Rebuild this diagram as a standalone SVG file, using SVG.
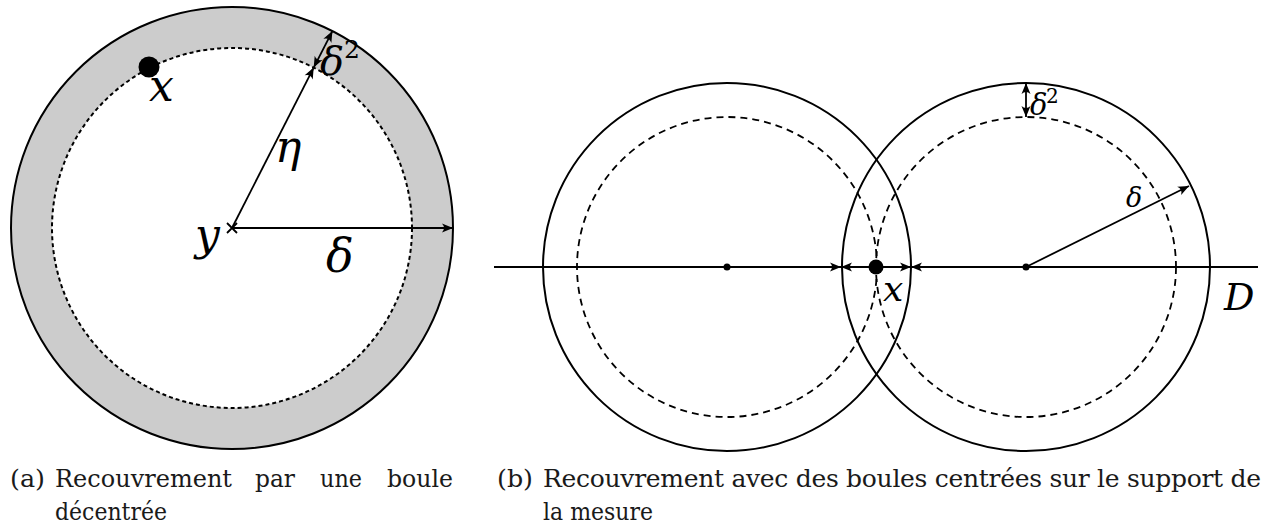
<svg xmlns="http://www.w3.org/2000/svg" width="1265" height="528" viewBox="0 0 1265 528">
<style>
.ln{stroke:#000;stroke-width:1.8;fill:none}
.circ{stroke:#000;stroke-width:2;fill:none}
.dot{stroke:#000;stroke-width:2;fill:none;stroke-dasharray:4 3}
.dash{stroke:#000;stroke-width:1.8;fill:none;stroke-dasharray:7 5}
text{font-family:"DejaVu Serif",serif}
.m{font-style:italic;fill:#000}
.n{font-style:normal;fill:#000}
.cap{font-size:25px;fill:#1a1a1a}
</style>
<defs>
<marker id="ah" viewBox="-12 -6 13 12" refX="0" refY="0" markerWidth="13" markerHeight="12" markerUnits="userSpaceOnUse" orient="auto-start-reverse">
<path d="M0,0 L-11,-4.5 Q-7,0 -11,4.5 Z" fill="#000"/>
</marker>
</defs>
<rect width="1265" height="528" fill="#fff"/>

<g id="ballA">
<path d="M232,7 A221,221 0 1,1 232,449 A221,221 0 1,1 232,7 Z M232,48 A180,180 0 1,0 232,408 A180,180 0 1,0 232,48 Z" fill="#cccccc" fill-rule="evenodd"/>
<circle cx="232" cy="228" r="221" class="circ"/>
<circle cx="232" cy="228" r="180" class="dot"/>
</g>
<g id="pointX">
<circle cx="149" cy="67" r="10.5" fill="#000"/>
<text x="149" y="101" class="m" font-size="44">x</text>
</g>
<g id="centerY">
<path d="M227,223 L237,233 M237,223 L227,233" class="ln"/>
<text x="195" y="250" class="m" font-size="44">y</text>
</g>

<g id="ballB1">
<circle cx="727" cy="267" r="184" class="circ"/>
<circle cx="727" cy="267" r="150" class="dash"/>
<circle cx="727" cy="267" r="3.5" fill="#000"/>
</g>
<g id="ballB2">
<circle cx="1026" cy="267" r="184" class="circ"/>
<circle cx="1026" cy="267" r="150" class="dash"/>
<circle cx="1026" cy="267" r="3.5" fill="#000"/>
</g>
<g id="lineD">
<line x1="494" y1="267" x2="1258" y2="267" class="ln"/>
<text x="1224" y="310" class="m" font-size="38">D</text>
</g>
<g id="pointXb">
<circle cx="876" cy="267" r="7.5" fill="#000"/>
<text x="883" y="301" class="m" font-size="36">x</text>
</g>

<g id="connectors">
<line x1="232" y1="228" x2="313.7" y2="67.6" class="ln" marker-end="url(#ah)"/>
<line x1="313.7" y1="67.6" x2="332.4" y2="31.1" class="ln" marker-start="url(#ah)" marker-end="url(#ah)"/>
<line x1="232" y1="228" x2="453" y2="228" class="ln" marker-end="url(#ah)"/>
<line x1="727" y1="267" x2="841" y2="267" class="ln" marker-end="url(#ah)"/>
<line x1="876" y1="267" x2="841" y2="267" class="ln" marker-end="url(#ah)"/>
<line x1="876" y1="267" x2="911" y2="267" class="ln" marker-end="url(#ah)"/>
<line x1="1026" y1="267" x2="911" y2="267" class="ln" marker-end="url(#ah)"/>
<line x1="1026" y1="83" x2="1026" y2="117" class="ln" marker-start="url(#ah)" marker-end="url(#ah)"/>
<line x1="1026" y1="267" x2="1189" y2="186" class="ln" marker-end="url(#ah)"/>
</g>

<g id="labels">
<text x="275" y="162" class="m" font-size="44">η</text>
<text x="320" y="75" class="m" font-size="40">δ</text>
<text x="344" y="58" class="n" font-size="25">2</text>
<text x="326" y="272" class="m" font-size="46">δ</text>
<text x="1030" y="115" class="m" font-size="29">δ</text>
<text x="1046" y="103" class="n" font-size="20">2</text>
<text x="1126" y="207" class="m" font-size="27">δ</text>
</g>

<g id="captionA">
<text x="10" y="487" class="cap" textLength="35" lengthAdjust="spacingAndGlyphs">(a)</text>
<text x="55" y="487" class="cap" textLength="177" lengthAdjust="spacingAndGlyphs">Recouvrement</text>
<text x="255" y="487" class="cap" textLength="40" lengthAdjust="spacingAndGlyphs">par</text>
<text x="320" y="487" class="cap" textLength="42" lengthAdjust="spacingAndGlyphs">une</text>
<text x="387" y="487" class="cap" textLength="66" lengthAdjust="spacingAndGlyphs">boule</text>
<text x="55" y="520" class="cap" textLength="112" lengthAdjust="spacingAndGlyphs">décentrée</text>
</g>
<g id="captionB">
<text x="497" y="487" class="cap" textLength="36" lengthAdjust="spacingAndGlyphs">(b)</text>
<text x="543" y="487" class="cap" textLength="718" lengthAdjust="spacing">Recouvrement avec des boules centrées sur le support de</text>
<text x="543" y="520" class="cap" textLength="110" lengthAdjust="spacingAndGlyphs">la mesure</text>
</g>
</svg>
